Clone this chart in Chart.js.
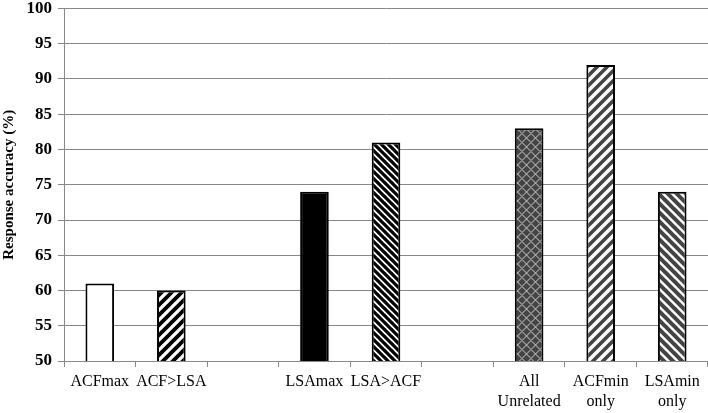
<!DOCTYPE html>
<html><head><meta charset="utf-8">
<script src="https://cdn.jsdelivr.net/npm/chart.js@4"></script>
<style>html,body{margin:0;padding:0;background:#fff;overflow:hidden}#wrap{width:708px;height:413px;overflow:hidden}#c{display:block;margin-top:-6px}</style>
</head><body><div id="wrap"><canvas id="c" width="708" height="419"></canvas></div>
<script>
const categories = [["ACFmax"], ["ACF>LSA"], [""], ["LSAmax"], ["LSA>ACF"], [""], ["All", "Unrelated"], ["ACFmin", "only"], ["LSAmin", "only"]];
const accuracy = [61, 60, null, 74, 81, null, 83, 92, 74];
const yTicks = [50, 55, 60, 65, 70, 75, 80, 85, 90, 95, 100];

function stripe(size, fg, bg, w, dir) {
  const c = document.createElement('canvas'); c.width = size; c.height = size;
  const g = c.getContext('2d');
  g.fillStyle = bg; g.fillRect(0, 0, size, size);
  g.strokeStyle = fg; g.lineWidth = w; g.lineCap = 'square';
  g.beginPath();
  if (dir === '/') {
    g.moveTo(0, size); g.lineTo(size, 0);
    g.moveTo(-1, 1); g.lineTo(1, -1);
    g.moveTo(size - 1, size + 1); g.lineTo(size + 1, size - 1);
  } else {
    g.moveTo(0, 0); g.lineTo(size, size);
    g.moveTo(-1, size - 1); g.lineTo(1, size + 1);
    g.moveTo(size - 1, -1); g.lineTo(size + 1, 1);
  }
  g.stroke();
  return g.createPattern(c, 'repeat');
}
function lattice(size, fg, bg) {
  const c = document.createElement('canvas'); c.width = size; c.height = size;
  const g = c.getContext('2d');
  g.fillStyle = bg; g.fillRect(0, 0, size, size);
  g.strokeStyle = fg; g.lineWidth = 1;
  g.beginPath();
  g.moveTo(0, size / 2); g.lineTo(size / 2, 0); g.lineTo(size, size / 2); g.lineTo(size / 2, size); g.closePath();
  g.stroke();
  return g.createPattern(c, 'repeat');
}
const ctx = document.getElementById('c').getContext('2d');
const fills = [
  '#ffffff',
  stripe(10, '#000', '#fff', 3.8, '/'),
  '#fff',
  '#000000',
  stripe(7, '#000', '#fff', 3.2, '\\'),
  '#fff',
  lattice(9, '#d0d0d0', '#444444'),
  stripe(10, '#444', '#fff', 3.6, '/'),
  stripe(9, '#444', '#fff', 4.0, '\\')
];
const font = "'Liberation Serif', serif";
new Chart(ctx, {
  type: 'bar',
  data: { labels: categories, datasets: [{ data: accuracy, backgroundColor: fills, borderColor: '#000', borderWidth: 2, borderSkipped: false, barPercentage: 0.4, categoryPercentage: 1.0 }] },
  options: {
    responsive: false, animation: false, devicePixelRatio: 1,
    layout: { padding: { top: 0, right: 0, left: 0, bottom: 0 } },
    plugins: { legend: { display: false }, tooltip: { enabled: false } },
    scales: {
      x: {
        offset: true,
        grid: { offset: true, drawOnChartArea: false, drawTicks: true, tickLength: 6, color: '#888' },
        border: { color: '#888' },
        ticks: { color: '#000', font: { family: font, size: 16, lineHeight: 1.25 }, maxRotation: 0, autoSkip: false, padding: 5 },
        afterFit: s => { s.height = 52; }
      },
      y: {
        min: 50, max: 100,
        afterBuildTicks: s => { s.ticks = yTicks.map(v => ({ value: v })); },
        grid: { color: '#888', lineWidth: 1, tickLength: 6 },
        border: { color: '#888' },
        ticks: { color: '#000', font: { family: font, size: 17, weight: 'bold', lineHeight: 1 }, padding: 6 },
        title: { display: true, text: 'Response accuracy (%)', color: '#000', font: { family: font, size: 15, weight: 'bold' }, padding: { top: 0, bottom: 2 } },
        afterFit: s => { s.width = 64; }
      }
    }
  }
});
</script></body></html>
